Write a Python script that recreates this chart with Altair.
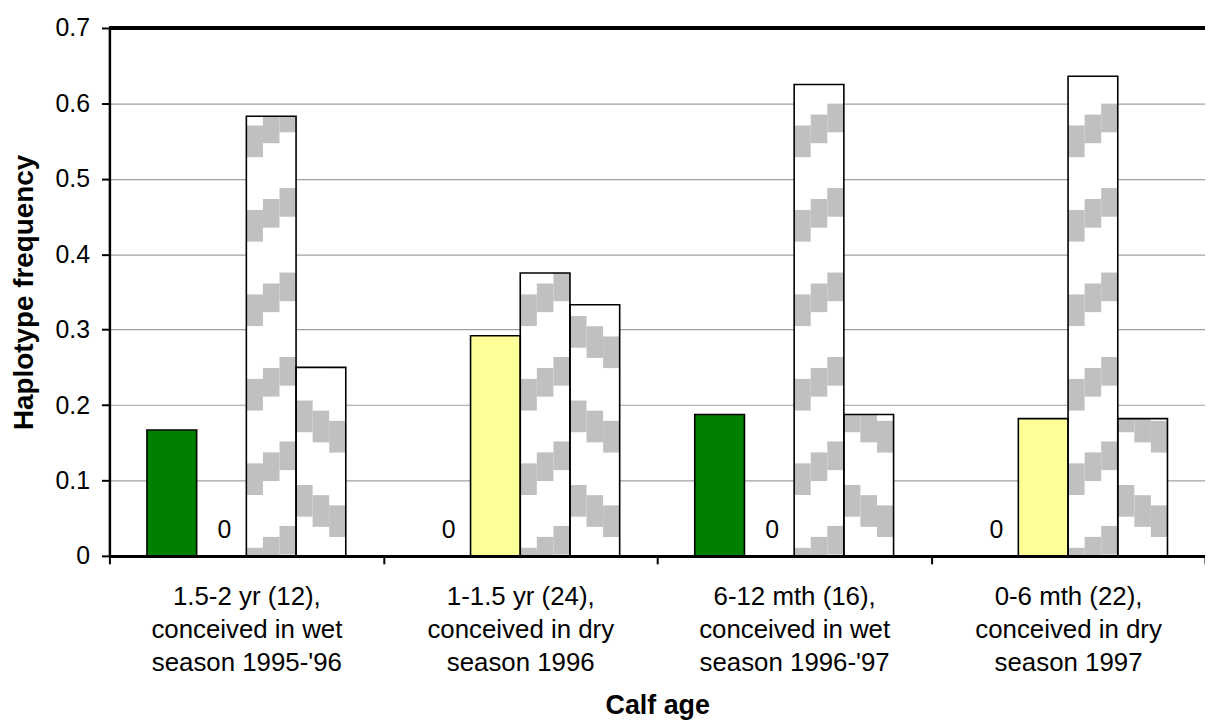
import altair as alt
import pandas as pd

# ---- data ----
categories = [
    "1.5-2 yr (12),|conceived in wet|season 1995-'96",
    "1-1.5 yr (24),|conceived in dry|season 1996",
    "6-12 mth (16),|conceived in wet|season 1996-'97",
    "0-6 mth (22),|conceived in dry|season 1997",
]
series = ["Haplotype 1", "Haplotype 2", "Haplotype 3", "Haplotype 4"]
hap1 = [0.167, 0.0, 0.1875, 0.0]
hap2 = [0.0, 0.292, 0.0, 0.182]
hap3 = [0.583, 0.375, 0.625, 0.636]
hap4 = [0.25, 0.333, 0.1875, 0.182]
fills = ["#008000", "#FFFF99", "#FFFFFF", "#FFFFFF"]
y_ticks = [0, 0.1, 0.2, 0.3, 0.4, 0.5, 0.6, 0.7]

FONT = "Liberation Sans"

rows = []
for s_i, (s, vals) in enumerate(zip(series, [hap1, hap2, hap3, hap4])):
    for c, v in zip(categories, vals):
        rows.append({"cat": c, "series": s, "sidx": s_i, "value": v,
                     "label": "0" if v == 0 else ""})
df = pd.DataFrame(rows)

# ---- hatch pattern (stepped diagonal stripes) for the two patterned series ----
PERIOD = 0.112
stripe_rows = []
for c, v in zip(categories, hap3):  # rising stripes
    for k in range(-1, 8):
        right_top = 0.0397 + k * PERIOD
        for col, (shift, h) in enumerate([(0.029, 0.042), (0.0145, 0.038), (0.0, 0.038)]):
            top = right_top - shift
            y0, y1 = max(0.0, top - h), min(v, top)
            if y1 > y0:
                stripe_rows.append({"cat": c, "slot": 6 + col, "y": y0, "y2": y1})
for c, v in zip(categories, hap4):  # falling stripes
    for k in range(-1, 8):
        left_top = 0.094 + k * PERIOD
        for col, shift in enumerate([0.0, 0.0135, 0.027]):
            top = left_top - shift
            y0, y1 = max(0.0, top - 0.042), min(v, top)
            if y1 > y0:
                stripe_rows.append({"cat": c, "slot": 9 + col, "y": y0, "y2": y1})
stripes = pd.DataFrame(stripe_rows)

x_enc = alt.X(
    "cat:N", sort=categories,
    scale=alt.Scale(paddingInner=0, paddingOuter=0),
    axis=alt.Axis(
        title="Calf age", labelExpr="split(datum.label, '|')", labelAngle=0,
        tickBand="extent", labelFontSize=26, labelLineHeight=33, labelPadding=20,
        labelLimit=0,
        labelColor="black", domainColor="black", domainWidth=3,
        tickColor="black", tickWidth=2, tickSize=8,
        titleFontSize=27, titleFontWeight="bold", titleColor="black", titlePadding=18,
        labelFont=FONT, titleFont=FONT,
    ),
)
y_scale = alt.Scale(domain=[0, 0.7], nice=False, zero=True)
y_axis = alt.Axis(
    values=y_ticks, labelExpr="datum.value == 0 ? '0' : format(datum.value, '.1f')",
    title="Haplotype frequency", titleFontSize=28, titleFontWeight="bold",
    titleColor="black", titlePadding=17, labelFontSize=25, labelColor="black",
    labelPadding=12, domainColor="black", domainWidth=2.5, tickColor="black",
    tickWidth=2, tickSize=8, gridColor="#A0A0A0", gridWidth=1.2,
    labelFont=FONT, titleFont=FONT,
)
off_series = alt.XOffset("series:N", sort=series,
                         scale=alt.Scale(domain=series, paddingInner=0, paddingOuter=0.755))

fill_bars = alt.Chart(df).mark_bar(strokeWidth=0).encode(
    x=x_enc,
    xOffset=off_series,
    y=alt.Y("value:Q", scale=y_scale, axis=y_axis),
    color=alt.Color("series:N", scale=alt.Scale(domain=series, range=fills), legend=None),
)

stripe_bars = alt.Chart(stripes).mark_bar(color="#C0C0C0", strokeWidth=0).encode(
    x=x_enc,
    xOffset=alt.XOffset("slot:O", scale=alt.Scale(domain=list(range(-2, 14)),
                                                  paddingInner=0, paddingOuter=0.265)),
    y=alt.Y("y:Q", scale=y_scale, axis=y_axis),
    y2="y2:Q",
)

outline_bars = alt.Chart(df).transform_filter("datum.value > 0").mark_bar(
    fillOpacity=0, stroke="black", strokeWidth=1.6
).encode(
    x=x_enc,
    xOffset=off_series,
    y=alt.Y("value:Q", scale=y_scale, axis=y_axis),
)

zero_labels = alt.Chart(df).transform_filter("datum.value == 0").mark_text(
    fontSize=25, baseline="bottom", dy=-13, dx=3, font=FONT, color="black"
).encode(
    x=x_enc,
    xOffset=alt.XOffset(
        "series:N",
        scale=alt.Scale(type="point", domain=["_start"] + series + ["_end"], padding=0.255),
    ),
    y=alt.Y("value:Q", scale=y_scale, axis=y_axis),
    text="label:N",
)

top_rule = alt.Chart(df).mark_rule(color="black", strokeWidth=2.5).encode(
    y=alt.datum(0.7, scale=y_scale, axis=y_axis)
)

chart = alt.layer(
    fill_bars, stripe_bars, outline_bars, zero_labels, top_rule
).resolve_scale(xOffset="independent").properties(
    width=1102, height=531, autosize="none",
    padding={"left": 102, "top": 18, "right": 0, "bottom": 166},
).configure_view(stroke="#808080", strokeWidth=1.5).configure(font=FONT)

chart.save("out.html", embed_options={"renderer": "svg", "actions": False})
